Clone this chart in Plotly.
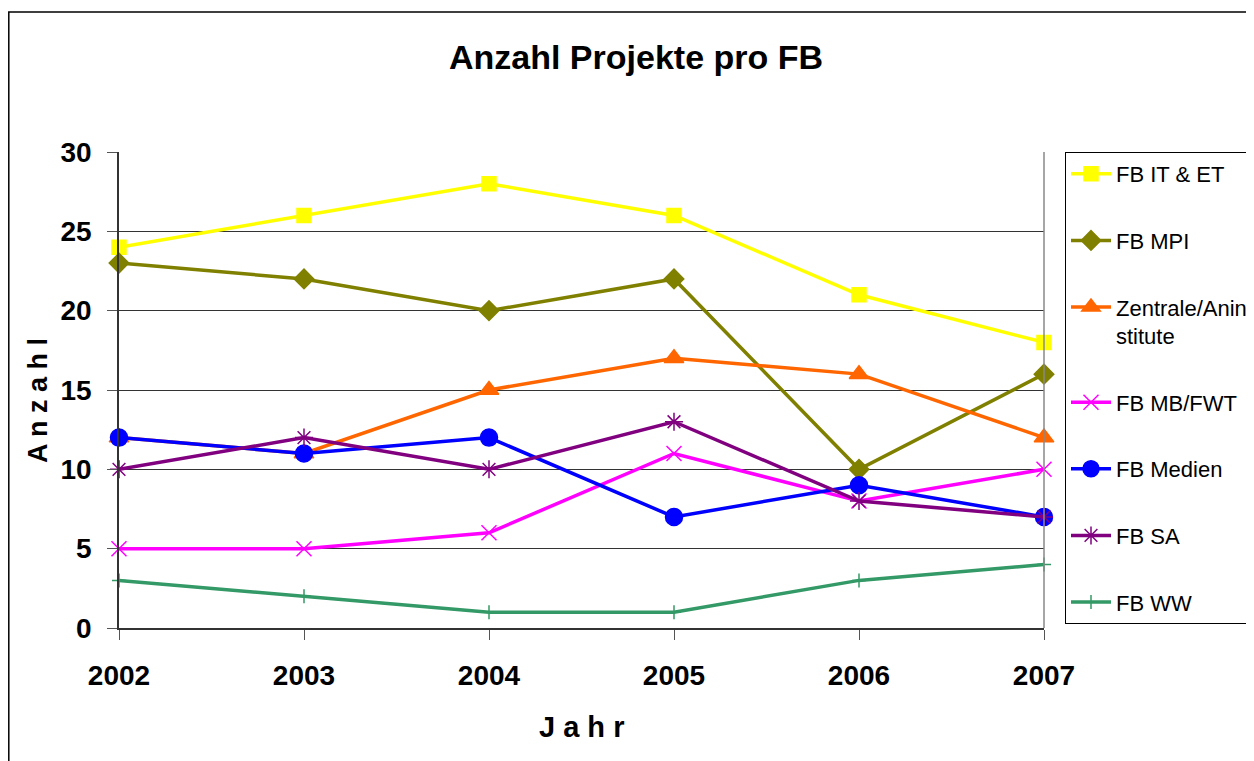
import plotly.graph_objects as go

# Daten
jahre = [2002, 2003, 2004, 2005, 2006, 2007]

fb_it_et = [24, 26, 28, 26, 21, 18]
fb_mpi = [23, 22, 20, 22, 10, 16]
zentrale = [12, 11, 15, 17, 16, 12]
fb_mb_fwt = [5, 5, 6, 11, 8, 10]
fb_medien = [12, 11, 12, 7, 9, 7]
fb_sa = [10, 12, 10, 13, 8, 7]
fb_ww = [3, 2, 1, 1, 3, 4]

FONT = "Liberation Sans, Arial, sans-serif"
W, H = 1246, 753
L, R, T, B = 111, 210, 144, 133
PW, PH = W - L - R, H - T - B

serien = [
    ("FB IT & ET", fb_it_et, "#FFFF00", "square", 14),
    ("FB MPI", fb_mpi, "#808000", "diamond", 15),
    ("Zentrale/Anin<br>stitute", zentrale, "#FF6600", "triangle-up", 17),
    ("FB MB/FWT", fb_mb_fwt, "#FF00FF", "x-thin-open", 15),
    ("FB Medien", fb_medien, "#0000FF", "circle", 17),
    ("FB SA", fb_sa, "#800080", "asterisk-open", 15),
    ("FB WW", fb_ww, "#339966", "cross-thin-open", 10),
]

fig = go.Figure()
for i, (name, werte, farbe, symbol, groesse) in enumerate(serien):
    fig.add_trace(go.Scatter(
        x=jahre, y=werte, mode="lines+markers", name=name,
        legendgroup=f"g{i}",
        line=dict(color=farbe, width=3.5),
        marker=dict(symbol=symbol, size=groesse, color=farbe,
                    line=dict(color=farbe, width=1.5)),
        cliponaxis=False,
    ))

# Rahmen um die ganze Grafik
fig.add_shape(type="rect", xref="paper", yref="paper",
              x0=-(L - 0.8) / PW, x1=1.5, y0=-0.5, y1=1 + (T - 4) / PH,
              line=dict(color="black", width=1.5), layer="below")

# rechte Begrenzung der Zeichenfläche
fig.add_shape(type="line", xref="paper", yref="paper", x0=1, x1=1, y0=0, y1=1,
              line=dict(color="#888888", width=1.5))

# Achsentitel
fig.add_annotation(text="<b>J a h r</b>", xref="paper", yref="paper",
                   x=0.5, y=-(727 - 8 - (T + PH)) / PH, showarrow=False,
                   xanchor="center", yanchor="middle",
                   font=dict(size=29, family=FONT))
fig.add_annotation(text="<b>A n z a h l</b>", xref="paper", yref="paper",
                   x=-(L - 30) / PW, y=1 - (401 - 8 - T) / PH, showarrow=False,
                   textangle=-90, xanchor="center", yanchor="middle",
                   font=dict(size=27, family=FONT))

fig.update_layout(
    width=W, height=H,
    paper_bgcolor="white", plot_bgcolor="white",
    font=dict(family=FONT, color="black"),
    margin=dict(l=L, r=R, t=T, b=B, autoexpand=False),
    title=dict(text="<b>Anzahl Projekte pro FB</b>", x=628 / W,
               xanchor="center", y=1 - 49 / H, yanchor="middle",
               font=dict(size=34, family=FONT)),
    xaxis=dict(
        range=[2002, 2007], tickvals=jahre, ticktext=[f"<b>{j}</b>" for j in jahre],
        tickfont=dict(size=28, family=FONT), ticks="outside", ticklen=10,
        tickcolor="#555555", ticklabelstandoff=12, showgrid=False, zeroline=False,
        showline=True, linecolor="#333333", linewidth=1.5,
    ),
    yaxis=dict(
        range=[0, 30], dtick=5, tickfont=dict(size=28, family=FONT),
        tickprefix="<b>", ticksuffix="</b>",
        ticks="outside", ticklen=10, tickcolor="#555555", ticklabelstandoff=10,
        showgrid=True, gridcolor="#333333", gridwidth=1, zeroline=False,
        showline=True, linecolor="#333333", linewidth=1.5,
    ),
    legend=dict(
        x=(1065 - 8 - L) / PW, xanchor="left", y=1, yanchor="top",
        bordercolor="black", borderwidth=1, bgcolor="white",
        font=dict(size=22, family=FONT), tracegroupgap=35, valign="top",
        itemwidth=40, maxheight=700,
    ),
)

fig.write_html("out.html")
